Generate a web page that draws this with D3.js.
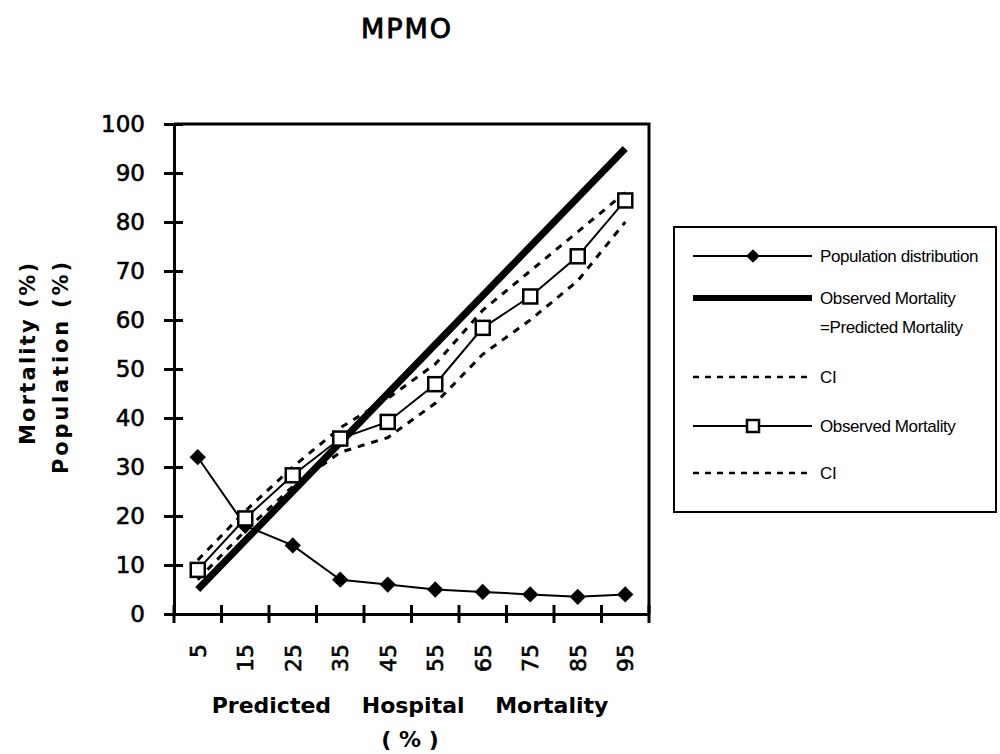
<!DOCTYPE html>
<html>
<head>
<meta charset="utf-8">
<script src="https://cdn.jsdelivr.net/npm/d3@7"></script>
<style>
  body { margin: 0; background: #fff; }
  svg { display: block; }
</style>
</head>
<body>
<div id="chart"></div>
<script>
// predicted hospital mortality deciles
const categories = ["5", "15", "25", "35", "45", "55", "65", "75", "85", "95"];
const yTicks = [0, 10, 20, 30, 40, 50, 60, 70, 80, 90, 100];

const population = [32, 18, 14, 7, 6, 5, 4.5, 4, 3.5, 4];
const expected = [5, 15, 25, 35, 45, 55, 65, 75, 85, 95];
const ciUpper = [11, 21, 30, 38, 44, 51, 62, 70, 78, 86];
const observed = [9, 19.5, 28.3, 35.8, 39.2, 46.9, 58.4, 64.8, 73, 84.4];
const ciLower = [7, 17, 26, 33, 36, 43, 53, 60, 68, 80];

const width = 1000, height = 754;
const m = { left: 174, top: 124, right: 649, bottom: 614 };

const svg = d3.select('#chart').append('svg')
  .attr('width', width)
  .attr('height', height);

const x = d3.scaleBand().domain(categories).range([m.left, m.right]);
const y = d3.scaleLinear().domain([0, 100]).range([m.bottom, m.top]);
const cx = d => x(d) + x.bandwidth() / 2;

// title
svg.append('text')
  .attr('x', 407).attr('y', 38)
  .attr('text-anchor', 'middle')
  .style('font-family', 'DejaVu Sans').style('font-size', '27px')
  .style('letter-spacing', '2px')
  .attr('stroke', '#000').attr('stroke-width', 0.9)
  .text('MPMO');

// frame (top + right)
svg.append('path')
  .attr('d', `M${m.left},${m.top}H${m.right}V${m.bottom}`)
  .attr('fill', 'none').attr('stroke', '#000').attr('stroke-width', 3);

// y axis
const yAxis = svg.append('g').attr('transform', `translate(${m.left},0)`)
  .call(d3.axisLeft(y).tickValues(yTicks).tickSize(0).tickPadding(29));
yAxis.select('.domain').attr('stroke-width', 3);
yAxis.selectAll('text')
  .style('font-family', 'DejaVu Sans').style('font-size', '23px').attr('fill', '#000')
  .attr('stroke', '#000').attr('stroke-width', 0.6);
yAxis.selectAll('.tick').append('line')
  .attr('x1', -10).attr('x2', 9).attr('stroke', '#000').attr('stroke-width', 3);

// x axis
const xAxis = svg.append('g').attr('transform', `translate(0,${m.bottom})`)
  .call(d3.axisBottom(x).tickSize(0).tickFormat(''));
xAxis.select('.domain').attr('stroke-width', 3);
const bounds = d3.range(categories.length + 1).map(i => m.left + i * x.bandwidth());
xAxis.selectAll('.xt').data(bounds).enter().append('line')
  .attr('x1', d => d).attr('x2', d => d).attr('y1', -9).attr('y2', 9)
  .attr('stroke', '#000').attr('stroke-width', 3);
xAxis.selectAll('.xl').data(categories).enter().append('text')
  .attr('transform', d => `translate(${cx(d) + 8},30) rotate(-90)`)
  .attr('text-anchor', 'end')
  .attr('fill', '#000').attr('stroke', '#000').attr('stroke-width', 0.6)
  .style('font-family', 'DejaVu Sans').style('font-size', '22px')
  .text(d => d);

// axis titles
svg.append('text')
  .attr('x', 410).attr('y', 713)
  .attr('text-anchor', 'middle')
  .style('font-family', 'DejaVu Sans').style('font-size', '22px').style('font-weight', 'bold')
  .style('white-space', 'pre')
  .text('Predicted    Hospital    Mortality');
svg.append('text')
  .attr('x', 410).attr('y', 747)
  .attr('text-anchor', 'middle')
  .style('font-family', 'DejaVu Sans').style('font-size', '22px').style('font-weight', 'bold')
  .style('white-space', 'pre')
  .text('( % )');

svg.append('text')
  .attr('transform', 'translate(35,354) rotate(-90)')
  .attr('text-anchor', 'middle')
  .attr('textLength', 182).attr('lengthAdjust', 'spacing')
  .style('font-family', 'DejaVu Sans').style('font-size', '21px').style('font-weight', 'bold')
  .text('Mortality (%)');
svg.append('text')
  .attr('transform', 'translate(68,368) rotate(-90)')
  .attr('text-anchor', 'middle')
  .attr('textLength', 212).attr('lengthAdjust', 'spacing')
  .style('font-family', 'DejaVu Sans').style('font-size', '21px').style('font-weight', 'bold')
  .text('Population (%)');

const line = d3.line().x((d, i) => cx(categories[i])).y(d => y(d));

// series
svg.append('path').datum(ciUpper).attr('d', line)
  .attr('fill', 'none').attr('stroke', '#000').attr('stroke-width', 3).attr('stroke-dasharray', '7,7');
svg.append('path').datum(ciLower).attr('d', line)
  .attr('fill', 'none').attr('stroke', '#000').attr('stroke-width', 3).attr('stroke-dasharray', '7,7');
svg.append('path').datum(expected).attr('d', line)
  .attr('fill', 'none').attr('stroke', '#000').attr('stroke-width', 7);
svg.append('path').datum(population).attr('d', line)
  .attr('fill', 'none').attr('stroke', '#000').attr('stroke-width', 2);
svg.append('path').datum(observed).attr('d', line)
  .attr('fill', 'none').attr('stroke', '#000').attr('stroke-width', 2);

const diamond = d3.symbol().type(d3.symbolDiamond2).size(170);
svg.selectAll('.pop').data(population).enter().append('path')
  .attr('transform', (d, i) => `translate(${cx(categories[i])},${y(d)})`)
  .attr('d', diamond).attr('fill', '#000');

svg.selectAll('.obs').data(observed).enter().append('rect')
  .attr('x', (d, i) => cx(categories[i]) - 7).attr('y', d => y(d) - 7)
  .attr('width', 14).attr('height', 14)
  .attr('fill', '#fff').attr('stroke', '#000').attr('stroke-width', 2.5);

// legend
const lg = svg.append('g');
lg.append('rect')
  .attr('x', 674).attr('y', 227).attr('width', 322).attr('height', 285)
  .attr('fill', '#fff').attr('stroke', '#000').attr('stroke-width', 2);

const legendItems = [
  { label: ['Population distribution'], y: 256, width: 2, marker: 'diamond' },
  { label: ['Observed Mortality', '=Predicted Mortality'], y: 298, width: 6 },
  { label: ['CI'], y: 377, width: 2.5, dash: '6,6' },
  { label: ['Observed Mortality'], y: 426, width: 2, marker: 'square' },
  { label: ['CI'], y: 473, width: 2.5, dash: '6,6' }
];
legendItems.forEach(it => {
  const g = lg.append('g');
  g.append('line')
    .attr('x1', 693).attr('x2', 812).attr('y1', it.y).attr('y2', it.y)
    .attr('stroke', '#000').attr('stroke-width', it.width)
    .attr('stroke-dasharray', it.dash || null);
  if (it.marker === 'diamond') {
    g.append('path').attr('transform', `translate(753,${it.y})`)
      .attr('d', d3.symbol().type(d3.symbolDiamond2).size(120)).attr('fill', '#000');
  } else if (it.marker === 'square') {
    g.append('rect').attr('x', 747).attr('y', it.y - 6).attr('width', 12).attr('height', 12)
      .attr('fill', '#fff').attr('stroke', '#000').attr('stroke-width', 2.5);
  }
  it.label.forEach((t, k) => {
    g.append('text')
      .attr('x', 820).attr('y', it.y + 6 + k * 29)
      .style('font-family', 'Liberation Sans Narrow, Liberation Sans').style('font-size', '17px')
      .style('letter-spacing', '-0.4px')
      .text(t);
  });
});
</script>
</body>
</html>
